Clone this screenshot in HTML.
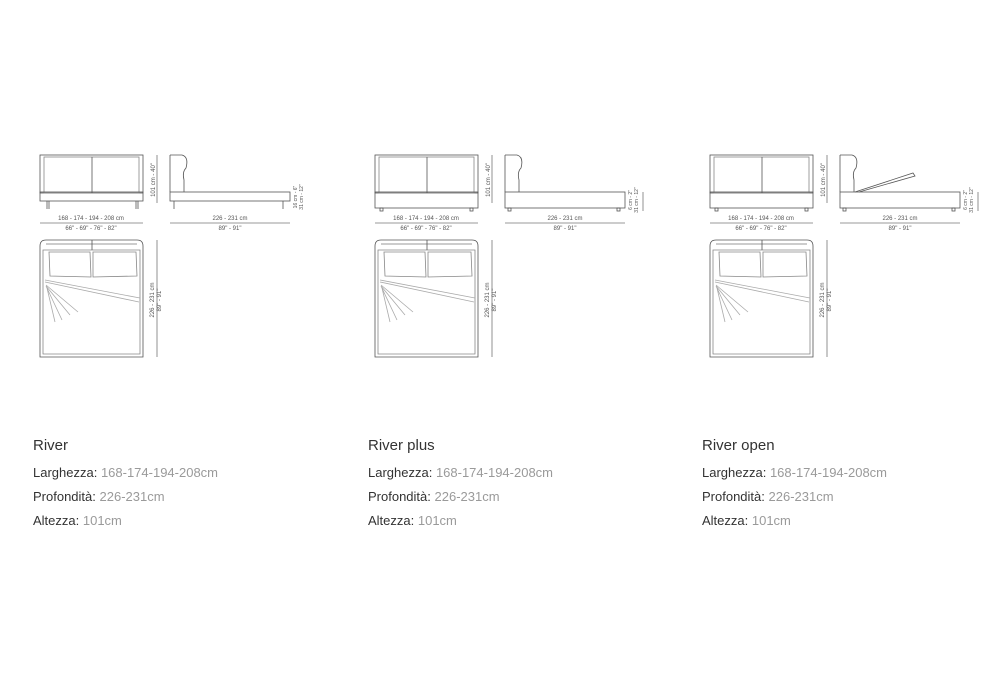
<!DOCTYPE html>
<html><head><meta charset="utf-8">
<style>
html,body{margin:0;padding:0;background:#fff;width:1000px;height:700px;overflow:hidden}
.t{position:absolute;font-family:"Liberation Sans",sans-serif;color:#333}
.h{font-size:15px}
.r{font-size:13px}
.r span{color:#9a9a9a}
</style></head><body>
<svg width="1000" height="700" style="position:absolute;left:0;top:0" xmlns="http://www.w3.org/2000/svg">
<defs>
<g id="top" fill="none" stroke="#555" stroke-width="0.8">
  <path d="M40 357 L40 246 Q40 240 46 240 L137 240 Q143 240 143 246 L143 357 Z"/>
  <path d="M43 354 L43 250 L140 250 L140 354 Z" stroke="#888"/>
  <line x1="46" y1="244" x2="137" y2="244" stroke="#777"/>
  <line x1="92" y1="240" x2="92" y2="250"/>
  <path d="M49 252 L90 252 L91 277 L50 276 Z" stroke="#888"/>
  <path d="M93 252 L136 252 L137 276 L93 277 Z" stroke="#888"/>
  <path d="M45 280 L140 298 M45 282 L139 302 M46 286 L70 315 M46 286 L62 320 M47 288 L55 322 M46 285 L78 312" stroke="#aaa"/>
  <line x1="157" y1="240" x2="157" y2="357" stroke="#777"/>
  <text x="0" y="0" transform="translate(154 300) rotate(-90)" font-size="6" fill="#555" stroke="none" text-anchor="middle" font-family="Liberation Sans">226 - 231 cm</text>
  <text x="0" y="0" transform="translate(161 300) rotate(-90)" font-size="6" fill="#555" stroke="none" text-anchor="middle" font-family="Liberation Sans">89" - 91"</text>
  <line x1="40" y1="223" x2="143" y2="223" stroke="#777"/>
  <text x="91" y="220" font-size="6" fill="#555" stroke="none" text-anchor="middle" font-family="Liberation Sans">168 - 174 - 194 - 208 cm</text>
  <text x="91" y="230" font-size="6" fill="#555" stroke="none" text-anchor="middle" font-family="Liberation Sans">66" - 69" - 76" - 82"</text>
  <line x1="170" y1="223" x2="290" y2="223" stroke="#777"/>
  <text x="230" y="220" font-size="6" fill="#555" stroke="none" text-anchor="middle" font-family="Liberation Sans">226 - 231 cm</text>
  <text x="230" y="230" font-size="6" fill="#555" stroke="none" text-anchor="middle" font-family="Liberation Sans">89" - 91"</text>
  <line x1="157" y1="155" x2="157" y2="203" stroke="#777"/>
  <text x="0" y="0" transform="translate(155 180) rotate(-90)" font-size="6" fill="#555" stroke="none" text-anchor="middle" font-family="Liberation Sans">101 cm - 40"</text>
  <rect x="40" y="155" width="103" height="38"/>
  <rect x="44" y="157" width="95" height="36" stroke="#888"/>
  <line x1="92" y1="157" x2="92" y2="193"/>
  <path d="M170 155 L182 155 Q189 157 186 168 Q182 172 184 180 L184 192 M170 155 L170 192"/>
</g>
</defs>

<!-- River -->
<g fill="none" stroke="#555" stroke-width="0.8">
  <use href="#top"/>
  <rect x="40" y="192" width="103" height="9"/>
  <line x1="47" y1="201" x2="47" y2="209"/><line x1="49" y1="201" x2="49" y2="209"/>
  <line x1="136" y1="201" x2="136" y2="209"/><line x1="138" y1="201" x2="138" y2="209"/>
  <rect x="170" y="192" width="120" height="9"/>
  <line x1="174" y1="201" x2="174" y2="209"/><line x1="283" y1="201" x2="283" y2="209"/>
  <text transform="translate(297 197) rotate(-90)" font-size="5" fill="#555" stroke="none" text-anchor="middle" font-family="Liberation Sans">16 cm - 6"</text>
  <text transform="translate(303 197) rotate(-90)" font-size="5" fill="#555" stroke="none" text-anchor="middle" font-family="Liberation Sans">31 cm - 12"</text>
</g>
<!-- River plus -->
<g fill="none" stroke="#555" stroke-width="0.8" transform="translate(335 0)">
  <use href="#top"/>
  <rect x="40" y="192" width="103" height="16"/>
  <rect x="45" y="208" width="3" height="3"/><rect x="135" y="208" width="3" height="3"/>
  <rect x="170" y="192" width="120" height="16"/>
  <rect x="173" y="208" width="3" height="3"/><rect x="282" y="208" width="3" height="3"/>
  <text transform="translate(297 200) rotate(-90)" font-size="5" fill="#555" stroke="none" text-anchor="middle" font-family="Liberation Sans">6 cm - 2"</text>
  <text transform="translate(303 200) rotate(-90)" font-size="5" fill="#555" stroke="none" text-anchor="middle" font-family="Liberation Sans">31 cm - 12"</text>
  <line x1="308" y1="192" x2="308" y2="211" stroke="#777"/>
</g>
<!-- River open -->
<g fill="none" stroke="#555" stroke-width="0.8" transform="translate(670 0)">
  <use href="#top"/>
  <rect x="40" y="192" width="103" height="16"/>
  <rect x="45" y="208" width="3" height="3"/><rect x="135" y="208" width="3" height="3"/>
  <rect x="170" y="192" width="120" height="16"/>
  <rect x="173" y="208" width="3" height="3"/><rect x="282" y="208" width="3" height="3"/>
  <path d="M185 192 L243 173 L245 176 L189 192"/>
  <text transform="translate(297 200) rotate(-90)" font-size="5" fill="#555" stroke="none" text-anchor="middle" font-family="Liberation Sans">6 cm - 2"</text>
  <text transform="translate(303 200) rotate(-90)" font-size="5" fill="#555" stroke="none" text-anchor="middle" font-family="Liberation Sans">31 cm - 12"</text>
  <line x1="308" y1="192" x2="308" y2="211" stroke="#777"/>
</g>
</svg>

<div class="t h" style="left:33px;top:437px">River</div>
<div class="t r" style="left:33px;top:465px">Larghezza: <span>168-174-194-208cm</span></div>
<div class="t r" style="left:33px;top:489px">Profondità: <span>226-231cm</span></div>
<div class="t r" style="left:33px;top:513px">Altezza: <span>101cm</span></div>

<div class="t h" style="left:368px;top:437px">River plus</div>
<div class="t r" style="left:368px;top:465px">Larghezza: <span>168-174-194-208cm</span></div>
<div class="t r" style="left:368px;top:489px">Profondità: <span>226-231cm</span></div>
<div class="t r" style="left:368px;top:513px">Altezza: <span>101cm</span></div>

<div class="t h" style="left:702px;top:437px">River open</div>
<div class="t r" style="left:702px;top:465px">Larghezza: <span>168-174-194-208cm</span></div>
<div class="t r" style="left:702px;top:489px">Profondità: <span>226-231cm</span></div>
<div class="t r" style="left:702px;top:513px">Altezza: <span>101cm</span></div>
</body></html>
